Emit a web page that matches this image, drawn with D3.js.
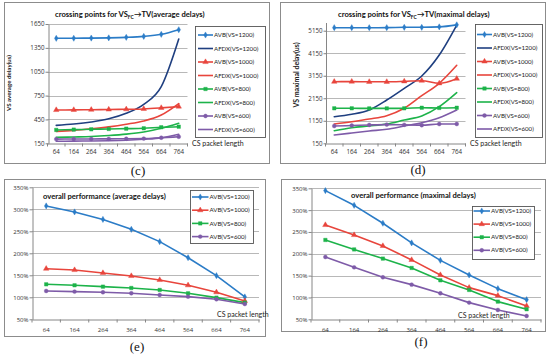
<!DOCTYPE html>
<html><head><meta charset="utf-8">
<script src="https://cdn.jsdelivr.net/npm/d3@7"></script>
<style>
html,body{margin:0;padding:0;background:#fff;}
svg{display:block;font-family:Lato,"Open Sans","Liberation Sans",sans-serif;}
</style></head>
<body><svg id="chart" width="550" height="358"></svg>
<script>
// ---------- data ----------
const categories = ["64","164","264","364","464","564","664","764"];
const xAxisTitle = "CS packet length";

// (c) crossing points, average delays (us)
const avgTicks = [150, 450, 750, 1050, 1350, 1650];
const avgAVB1200  = [1470, 1471, 1473, 1476, 1482, 1494, 1520, 1578];
const avgAFDX1200 = [375, 392, 418, 458, 527, 640, 862, 1461];
const avgAVB1000  = [569, 570, 572, 575, 578, 582, 595, 612];
const avgAFDX1000 = [300, 312, 332, 357, 390, 431, 506, 650];
const avgAVB800   = [318, 322, 326, 330, 334, 339, 352, 359];
const avgAFDX800  = [225, 230, 236, 248, 265, 292, 339, 402];
const avgAVB600   = [203, 204, 205, 206, 207, 209, 220, 232];
const avgAFDX600  = [175, 177, 179, 182, 188, 200, 218, 263];

// (d) crossing points, maximal delays (us)
const maxTicks = [150, 1150, 2150, 3150, 4150, 5150];
const maxAVB1200  = [5283, 5283, 5283, 5285, 5300, 5300, 5320, 5410];
const maxAFDX1200 = [1331, 1438, 1629, 2073, 2592, 3138, 4070, 5400];
const maxAVB1000  = [2885, 2890, 2880, 2880, 2900, 2930, 2814, 3018];
const maxAFDX1000 = [1007, 1110, 1229, 1375, 1704, 2263, 2814, 3613];
const maxAVB800   = [1704, 1704, 1700, 1700, 1704, 1730, 1720, 1730];
const maxAFDX800  = [710, 843, 918, 1007, 1185, 1362, 1775, 2397];
const maxAVB600   = [918, 940, 965, 980, 970, 955, 1005, 1007];
const maxAFDX600  = [519, 607, 696, 771, 918, 1065, 1287, 1629];

// (e),(f) overall performance (%)
const perfTicks = [50, 100, 150, 200, 250, 300, 350];
const perfAvg1200 = [307.6, 294, 277, 254.5, 226.5, 190, 149.2, 100.8];
const perfAvg1000 = [165, 162, 155.3, 148.5, 139.4, 127.3, 111.4, 91.7];
const perfAvg800  = [129.5, 127.3, 124.2, 121.2, 116.7, 109.1, 99.2, 87.9];
const perfAvg600  = [114.4, 112.9, 111.4, 109.1, 105.3, 101.5, 95.5, 84.8];
const perfMax1200 = [344.7, 311, 270, 225, 185, 151.5, 120.2, 95];
const perfMax1000 = [266, 243, 218, 186, 151.5, 122.5, 104.2, 80.5];
const perfMax800  = [231.7, 210, 189, 167.6, 139.3, 117.2, 90.5, 73];
const perfMax600  = [192.7, 169, 146.2, 129.4, 109.5, 88.2, 71.4, 57.6];

// ---------- styles ----------
const C = {b:"#2B7CC7", db:"#1F3F80", r:"#E8453C", g:"#1DB34A", p:"#7E5BA8"};

const svg = d3.select("#chart");

function marker(g, type, x, y, color){
  if(!type) return;
  const sym = {diamond:d3.symbolDiamond, triangle:d3.symbolTriangle, square:d3.symbolSquare, circle:d3.symbolCircle}[type];
  const size = {diamond:11, triangle:13, square:12, circle:12}[type];
  g.append("path").attr("d", d3.symbol().type(sym).size(size)())
    .attr("transform", `translate(${x},${y})`).attr("fill", color).attr("stroke", color).attr("stroke-width",0.4);
}

function panel(cfg){
  const g = svg.append("g");
  // frame
  g.append("rect").attr("x",cfg.frame[0]+0.5).attr("y",cfg.frame[1]+0.5)
    .attr("width",cfg.frame[2]).attr("height",cfg.frame[3])
    .attr("fill","#fff").attr("stroke","#8c8c8c").attr("stroke-width",1);

  const x = d3.scaleBand().domain(categories).range([cfg.plot[0], cfg.plot[1]]).padding(0);
  const y = d3.scaleLinear().domain(cfg.domain).range([cfg.plot[3], cfg.plot[2]]);
  const cx = c => x(c) + x.bandwidth()/2;

  // gridlines
  g.append("g").selectAll("line").data(cfg.ticks.slice(1)).join("line")
    .attr("x1", cfg.plot[0]).attr("x2", cfg.plot[1])
    .attr("y1", d => Math.round(y(d))+0.5).attr("y2", d => Math.round(y(d))+0.5)
    .attr("stroke","#a6a6a6").attr("stroke-width",0.8);

  // y axis
  const ya = g.append("g").attr("transform",`translate(${Math.round(cfg.plot[0])+0.5},0)`)
    .call(d3.axisLeft(y).tickValues(cfg.ticks).tickSize(3).tickSizeOuter(0).tickFormat(cfg.fmt));
  ya.select(".domain").attr("stroke","#868686");
  if(cfg.axisTop!==undefined) ya.select(".domain").attr("d",`M0,${cfg.axisTop}V${y(cfg.domain[0])}`);
  ya.selectAll(".tick line").attr("stroke","#868686");
  ya.selectAll(".tick text").attr("font-size",cfg.tickFs).attr("fill","#333").attr("x",-4)
    .attr("font-family",'"Open Sans",Lato,sans-serif');

  // x axis
  const xa = g.append("g").attr("transform",`translate(0,${Math.round(y(cfg.domain[0]))+0.5})`)
    .call(d3.axisBottom(x).tickSize(0).tickSizeOuter(0));
  xa.select(".domain").attr("stroke","#868686");
  xa.selectAll(".tick text").attr("font-size",cfg.tickFs).attr("fill","#333").attr("y",cfg.xLabDy)
    .attr("font-family",'"Open Sans",Lato,sans-serif');
  // category boundary tick marks
  xa.append("g").selectAll("line").data(categories.concat(["end"])).join("line")
    .attr("x1", (d,i) => cfg.plot[0] + i*x.bandwidth()).attr("x2",(d,i) => cfg.plot[0] + i*x.bandwidth())
    .attr("y1",0).attr("y2",3).attr("stroke","#868686");

  // series
  const line = d3.line().x((d,i)=>cx(categories[i])).y(d=>y(d));
  if(cfg.curve) line.curve(d3.curveMonotoneX);
  cfg.series.forEach(s => {
    g.append("path").datum(s.values).attr("d", line)
      .attr("fill","none").attr("stroke", s.color).attr("stroke-width", cfg.lw)
      .attr("stroke-linejoin","round").attr("stroke-linecap","round");
  });
  cfg.series.forEach(s => {
    if(s.marker) s.values.forEach((v,i)=> marker(g, s.marker, cx(categories[i]), y(v), s.color));
  });

  // legend
  const L = cfg.legend;
  g.append("rect").attr("x",L.box[0]+0.5).attr("y",L.box[1]+0.5).attr("width",L.box[2]).attr("height",L.box[3])
    .attr("fill","#fff").attr("stroke","#555").attr("stroke-width",0.9);
  cfg.series.forEach((s,i)=>{
    const yy = L.y0 + i*L.dy;
    g.append("line").attr("x1",L.x0).attr("x2",L.x1).attr("y1",yy).attr("y2",yy)
      .attr("stroke",s.color).attr("stroke-width",cfg.lw);
    if(s.marker) marker(g, s.marker, (L.x0+L.x1)/2, yy, s.color);
    g.append("text").attr("x",L.x1+1).attr("y",yy).attr("dy","0.35em")
      .attr("font-size",L.fs).attr("fill","#222").text(s.name);
  });

  // title
  const t = g.append("text").attr("x",cfg.title.x).attr("y",cfg.title.y)
    .attr("font-size",cfg.title.fs).attr("font-weight","bold").attr("fill","#111");
  cfg.title.parts.forEach(p=>{
    const ts = t.append("tspan").text(p.t);
    if(p.sub){ ts.attr("font-size",cfg.title.fs*0.65).attr("dy",2); }
    if(p.after){ ts.attr("dy",-2); }
  });

  // x axis title
  g.append("text").attr("x",cfg.xt[0]).attr("y",cfg.xt[1]).attr("dy","0.35em")
    .attr("font-size",cfg.xt[2]).attr("fill","#222").text(xAxisTitle);

  // y axis title
  if(cfg.yt){
    g.append("text").attr("transform",`translate(${cfg.yt.x},${cfg.yt.y}) rotate(-90)`)
      .attr("text-anchor","middle").attr("font-size",cfg.yt.fs).attr("font-weight","bold").attr("fill","#222")
      .text(cfg.yt.t);
  }

  // caption
  svg.append("text").attr("x",cfg.cap[0]).attr("y",cfg.cap[1]).attr("text-anchor","middle")
    .attr("font-family",'"Liberation Serif","DejaVu Serif",serif').attr("font-size",13).attr("fill","#111")
    .text(cfg.cap[2]);
}

const pct = d => d + "%";
const crossNames = ["AVB(VS=1200)","AFDX(VS=1200)","AVB(VS=1000)","AFDX(VS=1000)","AVB(VS=800)","AFDX(VS=800)","AVB(VS=600)","AFDX(VS=600)"];

function crossSeries(a){
  return [
    {name:crossNames[0], values:a[0], color:C.b,  marker:"diamond"},
    {name:crossNames[1], values:a[1], color:C.db},
    {name:crossNames[2], values:a[2], color:C.r,  marker:"triangle"},
    {name:crossNames[3], values:a[3], color:C.r},
    {name:crossNames[4], values:a[4], color:C.g,  marker:"square"},
    {name:crossNames[5], values:a[5], color:C.g},
    {name:crossNames[6], values:a[6], color:C.p,  marker:"circle"},
    {name:crossNames[7], values:a[7], color:C.p}
  ];
}
function perfSeries(a){
  return [
    {name:"AVB(VS=1200)", values:a[0], color:C.b, marker:"diamond"},
    {name:"AVB(VS=1000)", values:a[1], color:C.r, marker:"triangle"},
    {name:"AVB(VS=800)",  values:a[2], color:C.g, marker:"square"},
    {name:"AVB(VS=600)",  values:a[3], color:C.p, marker:"circle"}
  ];
}

// (c)
panel({
  frame:[4,2,265,161], plot:[47.5,187.5,24,143.3], domain:[150,1650], ticks:avgTicks, fmt:d=>d,
  tickFs:6.2, xLabDy:6.5, lw:1.6, curve:true,
  series: crossSeries([avgAVB1200,avgAFDX1200,avgAVB1000,avgAFDX1000,avgAVB800,avgAFDX800,avgAVB600,avgAFDX600]),
  legend:{box:[195,26,70,111], x0:198, x1:213, y0:35, dy:13.5, fs:6.1},
  title:{x:55, y:16.5, fs:7.6, parts:[{t:"crossing points for VS"},{t:"FC",sub:true},{t:"\u2192TV(average delays)",after:true}]},
  xt:[192,143.5,7],
  yt:{x:11, y:83, fs:6.2, t:"VS average delay(us)"},
  cap:[138,175,"(c)"]
});
// (d)
panel({
  frame:[280,2,265,161], plot:[325.5,465.5,30.7,143.3], domain:[150,5150], ticks:maxTicks, fmt:d=>d,
  tickFs:6.2, xLabDy:6.5, lw:1.6, curve:true, axisTop:23,
  series: crossSeries([maxAVB1200,maxAFDX1200,maxAVB1000,maxAFDX1000,maxAVB800,maxAFDX800,maxAVB600,maxAFDX600]),
  legend:{box:[475,24,67,113], x0:477, x1:492, y0:34.5, dy:13.5, fs:6.1},
  title:{x:338, y:16.5, fs:7.6, parts:[{t:"crossing points for VS"},{t:"FC",sub:true},{t:"\u2192TV(maximal delays)",after:true}]},
  xt:[470,143.5,7],
  yt:{x:299, y:75, fs:7, t:"VS maximal delay(us)"},
  cap:[418,174,"(d)"]
});
// (e)
panel({
  frame:[4,179,261,157], plot:[32,259,187.3,319.3], domain:[50,350], ticks:perfTicks, fmt:pct,
  tickFs:6, xLabDy:8, lw:1.6, curve:false,
  series: perfSeries([perfAvg1200,perfAvg1000,perfAvg800,perfAvg600]),
  legend:{box:[190,190,63,53], x0:192, x1:208.5, y0:197, dy:13.2, fs:6.1},
  title:{x:43, y:198.5, fs:7.6, parts:[{t:"overall performance (average delays)"}]},
  xt:[217,315,7],
  cap:[137,351,"(e)"]
});
// (f)
panel({
  frame:[281,179,264,152], plot:[311,541,188.3,319.3], domain:[50,350], ticks:perfTicks, fmt:pct,
  tickFs:6, xLabDy:8, lw:1.6, curve:false,
  series: perfSeries([perfMax1200,perfMax1000,perfMax800,perfMax600]),
  legend:{box:[472,206,62,53], x0:473.5, x1:490, y0:211, dy:13.1, fs:6.1},
  title:{x:351, y:197.5, fs:7.6, parts:[{t:"overall performance (maximal delays)"}]},
  xt:[458,316,7],
  cap:[421,346,"(f)"]
});
</script>
</body></html>
